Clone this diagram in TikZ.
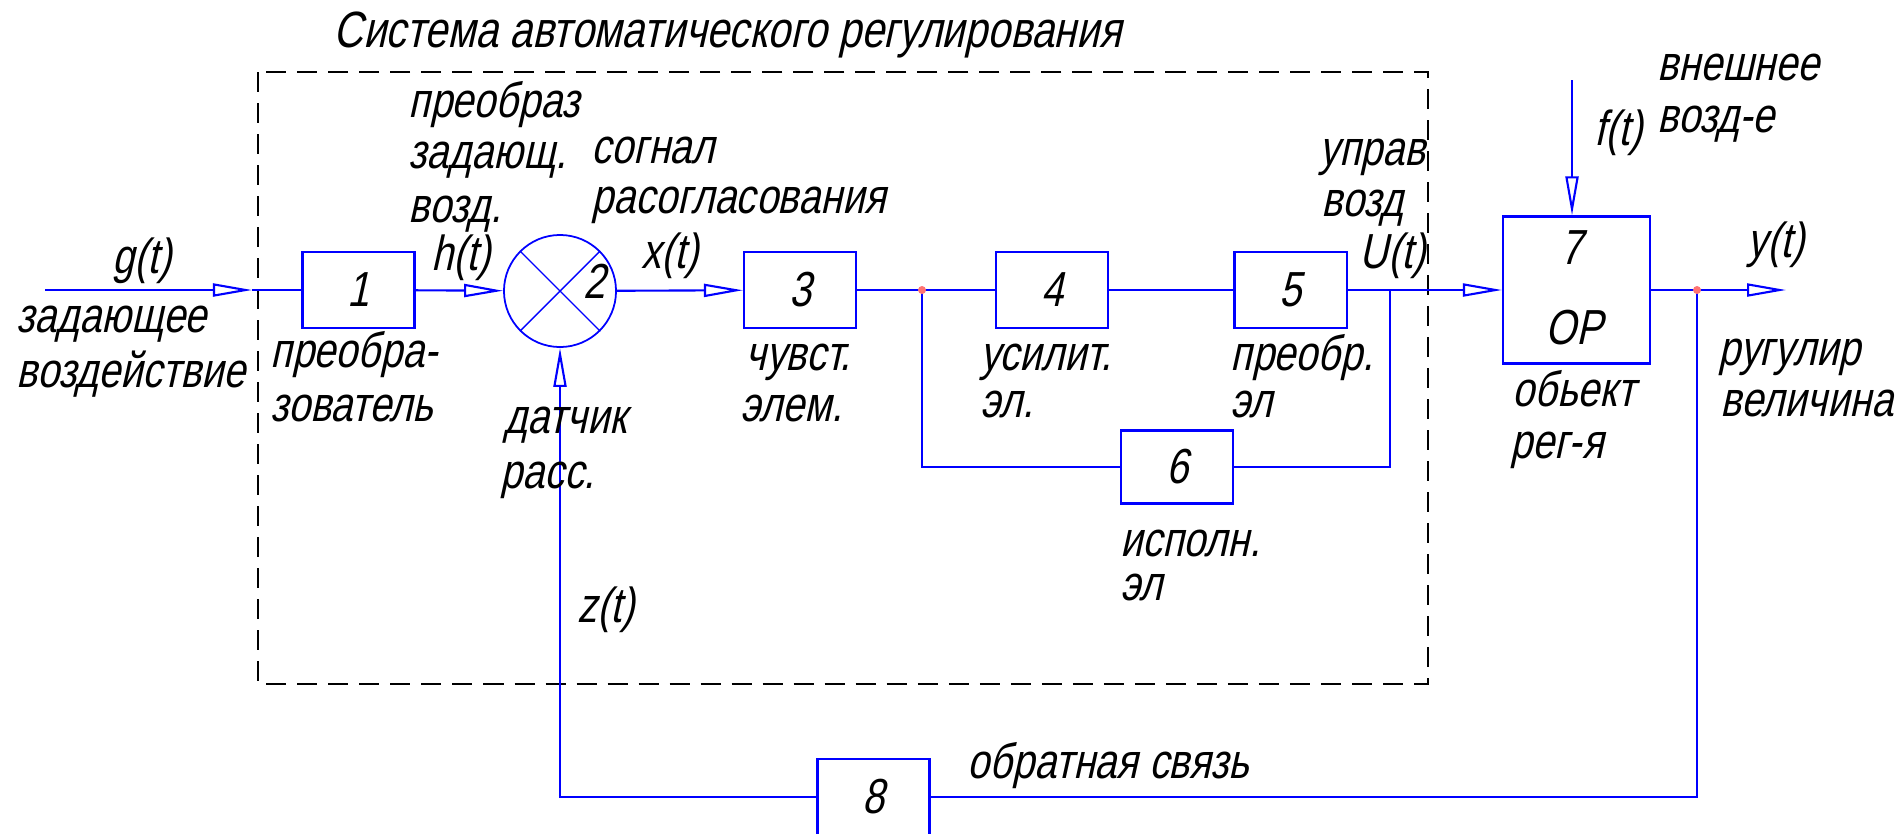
\documentclass[tikz,border=0pt]{standalone}
\usepackage{fontspec}
\newfontfamily\gost{Liberation Sans}[FakeSlant=0.22,FakeStretch=0.8]
\usetikzlibrary{arrows.meta}

\begin{document}
\begin{tikzpicture}[x=0.01cm,y=-0.01cm,
  font=\gost\fontsize{14}{16}\selectfont,
  blok/.style={draw=blue,line width=0.6pt,minimum width=1.12cm,minimum height=0.76cm,inner sep=0pt},
  sig/.style={draw=blue,line width=0.6pt},
  strel/.style={sig,-{Triangle[open,length=3.9mm,width=1.3mm]}},
  lbl/.style={anchor=base west,inner sep=0pt},
  rama/.style={draw=black,line width=0.8pt,dash pattern=on 2mm off 1.1mm},
  uzel/.style={circle,fill=red!55,inner sep=0pt,minimum size=0.8mm}]
  \useasboundingbox (0,0) rectangle (1898,833);
  \draw[rama] (258,72) rectangle (1428,684);
  \node[lbl,font=\gost\fontsize{14.5}{16}\selectfont] (tsar) at (333,47) {Система автоматического регулирования};

  \node[blok] (b1) at (358.5,290) {1};
  \node[circle,draw=blue,line width=0.5pt,minimum size=1.12cm,inner sep=0pt] (sum) at (560,291) {};
  \draw[blue,line width=0.4pt] (sum.45) -- (sum.225) (sum.135) -- (sum.-45);
  \node (n2) at (594,281) {2};
  \node[blok] (b3) at (800,290) {3};
  \node[blok] (b4) at (1052,290) {4};
  \node[blok] (b5) at (1290.5,290) {5};
  \node[blok,minimum height=0.73cm] (b6) at (1177,467) {6};
  \node[blok,minimum width=1.47cm,minimum height=1.47cm] (b7) at (1576.5,290) {};
  \node (n7) at (1571,248) {7};
  \node (nor) at (1574,328) {ОР};
  \node[blok] (b8) at (873.5,797) {8};

  \coordinate (vh) at (45,290);
  \coordinate (g1) at (252,290);
  \coordinate (j1) at (922,290);
  \coordinate (j3) at (1390,290);
  \coordinate (j2) at (1697,290);
  \coordinate (ftop) at (1572,80);
  \coordinate (vyh) at (1786,290);

  \draw[strel] (vh) -- (g1);
  \draw[sig] (g1) -- (b1);
  \draw[strel] (b1) -- (sum);
  \draw[strel] (sum) -- (b3);
  \draw[sig] (b3) -- (b4);
  \draw[sig] (b4) -- (b5);
  \draw[strel] (b5) -- (b7);
  \draw[sig] (j1) |- (b6);
  \draw[sig] (b6) -| (j3);
  \draw[strel] (ftop) -- (ftop |- b7.north);
  \draw[strel] (b7) -- (vyh);
  \draw[sig] (j2) |- (b8);
  \draw[strel] (b8) -| (sum);
  \node[uzel] (d1) at (j1) {};
  \node[uzel] (d2) at (j2) {};

  \node[lbl] (tg) at (112,273) {g(t)};
  \node[lbl] (tz1) at (16,332) {задающее};
  \node[lbl] (tz2) at (16,387) {воздействие};
  \node[lbl] (tp1) at (408,117) {преобраз};
  \node[lbl] (tp2) at (408,168) {задающ.};
  \node[lbl] (tp3) at (408,222) {возд.};
  \node[lbl] (th) at (431,270) {h(t)};
  \node[lbl] (ts1) at (591,163) {согнал};
  \node[lbl] (ts2) at (591,213) {расогласования};
  \node[lbl] (tx) at (641,268) {x(t)};
  \node[lbl] (tb1) at (270,367) {преобра-};
  \node[lbl] (tb2) at (270,421) {зователь};
  \node[lbl] (td1) at (504,433) {датчик};
  \node[lbl] (td2) at (500,488) {расс.};
  \node[lbl] (tzt) at (577,622) {z(t)};
  \node[lbl] (tc1) at (745,370) {чувст.};
  \node[lbl] (tc2) at (740,421) {элем.};
  \node[lbl] (tu1) at (980,370) {усилит.};
  \node[lbl] (tu2) at (980,417) {эл.};
  \node[lbl] (tr1) at (1230,370) {преобр.};
  \node[lbl] (tr2) at (1230,417) {эл};
  \node[lbl] (ti1) at (1120,556) {исполн.};
  \node[lbl] (ti2) at (1120,600) {эл};
  \node[lbl] (tv1) at (1319,165) {управ};
  \node[lbl] (tv2) at (1321,216) {возд};
  \node[lbl] (tU) at (1359,268) {U(t)};
  \node[lbl] (to1) at (1512,406) {обьект};
  \node[lbl] (to2) at (1510,458) {рег-я};
  \node[lbl] (tf1) at (1657,80) {внешнее};
  \node[lbl] (tf2) at (1657,132) {возд-е};
  \node[lbl] (tf) at (1594,145) {f(t)};
  \node[lbl] (ty) at (1747,257) {y(t)};
  \node[lbl] (ty1) at (1718,365) {ругулир};
  \node[lbl] (ty2) at (1720,416) {величина};
  \node[lbl] (tos) at (967,778) {обратная связь};
\end{tikzpicture}
\end{document}
